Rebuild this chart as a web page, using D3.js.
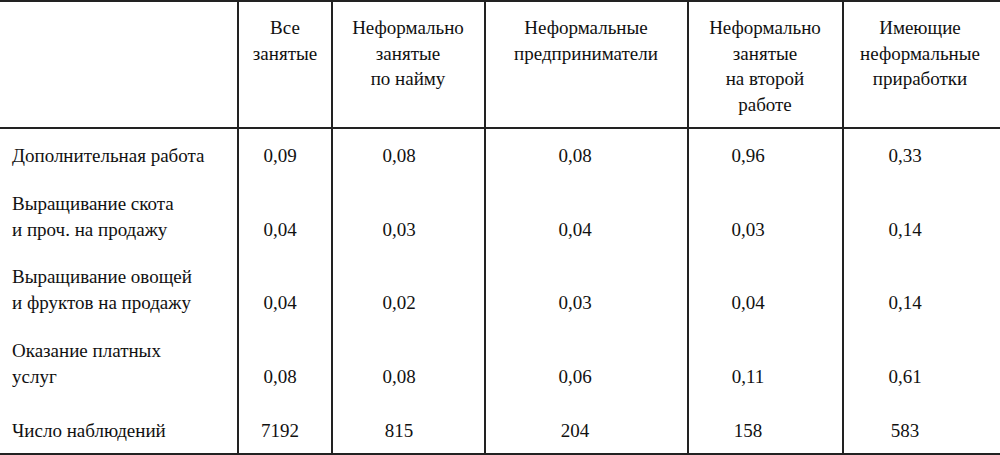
<!DOCTYPE html>
<html><head><meta charset="utf-8">
<script src="https://cdn.jsdelivr.net/npm/d3@7"></script>
<style>body{margin:0;background:#fff}svg{display:block}
svg text{font-family:"Liberation Serif","Tinos","Times New Roman",Times,"DejaVu Serif",serif;font-size:19px;fill:#111}</style>
</head><body>
<svg id="c" width="1000" height="455"></svg>
<script>
const columns = [["Все","занятые"],["Неформально","занятые","по найму"],["Неформальные","предприниматели"],["Неформально","занятые","на второй","работе"],["Имеющие","неформальные","приработки"]];
const rowLabels = [["Дополнительная работа"],["Выращивание скота","и проч. на продажу"],["Выращивание овощей","и фруктов на продажу"],["Оказание платных","услуг"],["Число наблюдений"]];
const allEmployed = ["0,09","0,04","0,04","0,08","7192"];
const informalHired = ["0,08","0,03","0,02","0,08","815"];
const informalEntrepreneurs = ["0,08","0,04","0,03","0,06","204"];
const informalSecondJob = ["0,96","0,03","0,04","0,11","158"];
const informalSideIncome = ["0,33","0,14","0,14","0,61","583"];
const series = [allEmployed, informalHired, informalEntrepreneurs, informalSecondJob, informalSideIncome];

const svg = d3.select("#c");
const bounds = [238, 332, 485, 688, 843, 1000];
const headCx = [285, 408, 586, 765, 920];
const valCx = [280, 399, 575, 748, 905];
const lh = 25.5;
const rowBase = [162, 236, 309, 383, 437];
const g = svg.append("g");
const ln = (x1,y1,x2,y2)=>svg.append("line").attr("x1",x1).attr("y1",y1).attr("x2",x2).attr("y2",y2).attr("stroke","#222").attr("stroke-width",2);
ln(0,1,1000,1); ln(0,128,1000,128); ln(0,454,1000,454);
bounds.slice(0,5).forEach(x=>ln(x,0,x,455));
columns.forEach((lines,i)=>lines.forEach((t,j)=>g.append("text").attr("x",headCx[i]).attr("y",34+j*lh).attr("text-anchor","middle").text(t)));
rowLabels.forEach((lines,r)=>lines.forEach((t,j)=>g.append("text").attr("x",12).attr("y",rowBase[r]-(lines.length-1-j)*26).text(t)));
series.forEach((vals,i)=>vals.forEach((v,r)=>g.append("text").attr("x",valCx[i]).attr("y",rowBase[r]).attr("text-anchor","middle").text(v)));
</script>
</body></html>
